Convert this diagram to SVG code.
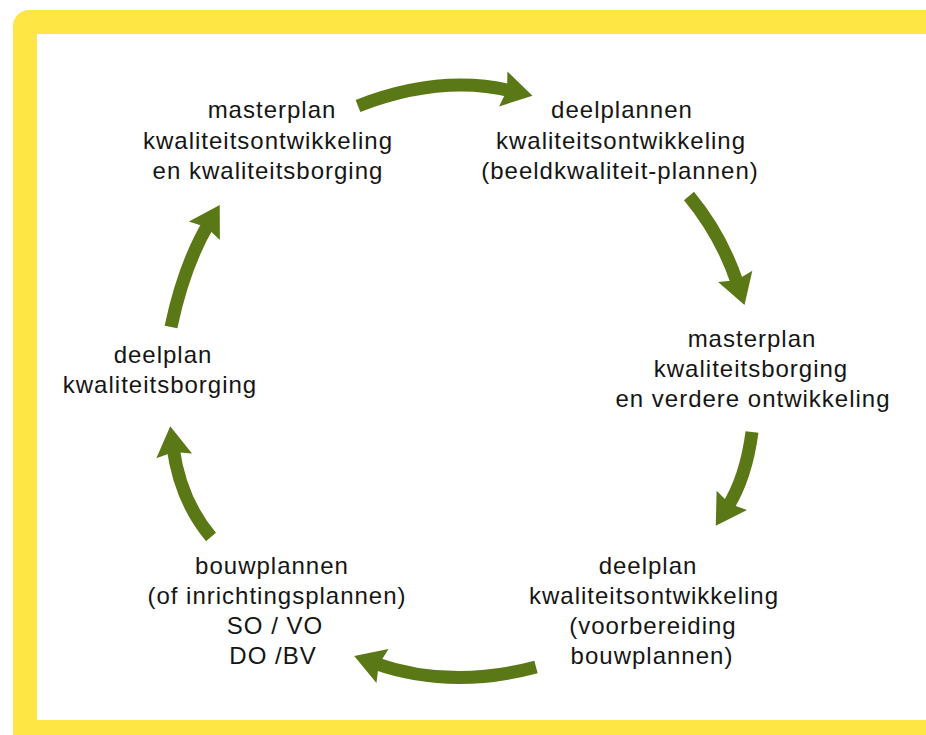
<svg xmlns="http://www.w3.org/2000/svg" width="926" height="735" viewBox="0 0 926 735">
  <defs>
    <style>
      .lbl { font-family: "Liberation Sans", Arial, sans-serif; font-size: 24px; letter-spacing: 1px; fill: #151515; text-anchor: middle; }
      .arrow { fill: none; stroke: #5B7816; stroke-width: 13; stroke-linecap: butt; }
    </style>
    <marker id="head" markerUnits="userSpaceOnUse" markerWidth="60" markerHeight="60" refX="0" refY="0" orient="auto" overflow="visible">
      <path d="M21,0 L-9,-18 L-5,0 L-9,18 Z" fill="#5B7816"/>
    </marker>
  </defs>

  <rect x="0" y="0" width="926" height="735" fill="#ffffff"/>
  <g id="frame">
    <rect x="13" y="10" width="940" height="750" rx="16" ry="16" fill="#FEE645"/>
    <rect x="37" y="34" width="910" height="686" fill="#ffffff"/>
  </g>

  <g id="connectors">
    <path class="arrow" d="M358,106 Q440,74 512,91" marker-end="url(#head)"/>
    <path class="arrow" d="M689,196 Q722,236 738,285" marker-end="url(#head)"/>
    <path class="arrow" d="M752,432 Q746,478 727,508" marker-end="url(#head)"/>
    <path class="arrow" d="M536,667 Q450,690 374,663" marker-end="url(#head)"/>
    <path class="arrow" d="M211,537 Q180,500 173,447" marker-end="url(#head)"/>
    <path class="arrow" d="M171,327 Q184,265 209,223" marker-end="url(#head)"/>
  </g>

  <g id="node-masterplan-ontwikkeling">
    <text class="lbl" x="272" y="118">masterplan</text>
    <text class="lbl" x="268" y="149">kwaliteitsontwikkeling</text>
    <text class="lbl" x="268" y="179">en kwaliteitsborging</text>
  </g>

  <g id="node-deelplannen">
    <text class="lbl" x="622" y="118">deelplannen</text>
    <text class="lbl" x="621" y="149">kwaliteitsontwikkeling</text>
    <text class="lbl" x="620" y="179">(beeldkwaliteit-plannen)</text>
  </g>

  <g id="node-masterplan-borging">
    <text class="lbl" x="752" y="347">masterplan</text>
    <text class="lbl" x="751" y="377">kwaliteitsborging</text>
    <text class="lbl" x="753" y="407">en verdere ontwikkeling</text>
  </g>

  <g id="node-deelplan-ontwikkeling">
    <text class="lbl" x="648" y="574">deelplan</text>
    <text class="lbl" x="654" y="604">kwaliteitsontwikkeling</text>
    <text class="lbl" x="653" y="634">(voorbereiding</text>
    <text class="lbl" x="652" y="664">bouwplannen)</text>
  </g>

  <g id="node-bouwplannen">
    <text class="lbl" x="272" y="574">bouwplannen</text>
    <text class="lbl" x="277" y="604">(of inrichtingsplannen)</text>
    <text class="lbl" x="275" y="634">SO / VO</text>
    <text class="lbl" x="273" y="664">DO /BV</text>
  </g>

  <g id="node-deelplan-borging">
    <text class="lbl" x="163" y="363">deelplan</text>
    <text class="lbl" x="160" y="393">kwaliteitsborging</text>
  </g>
</svg>
